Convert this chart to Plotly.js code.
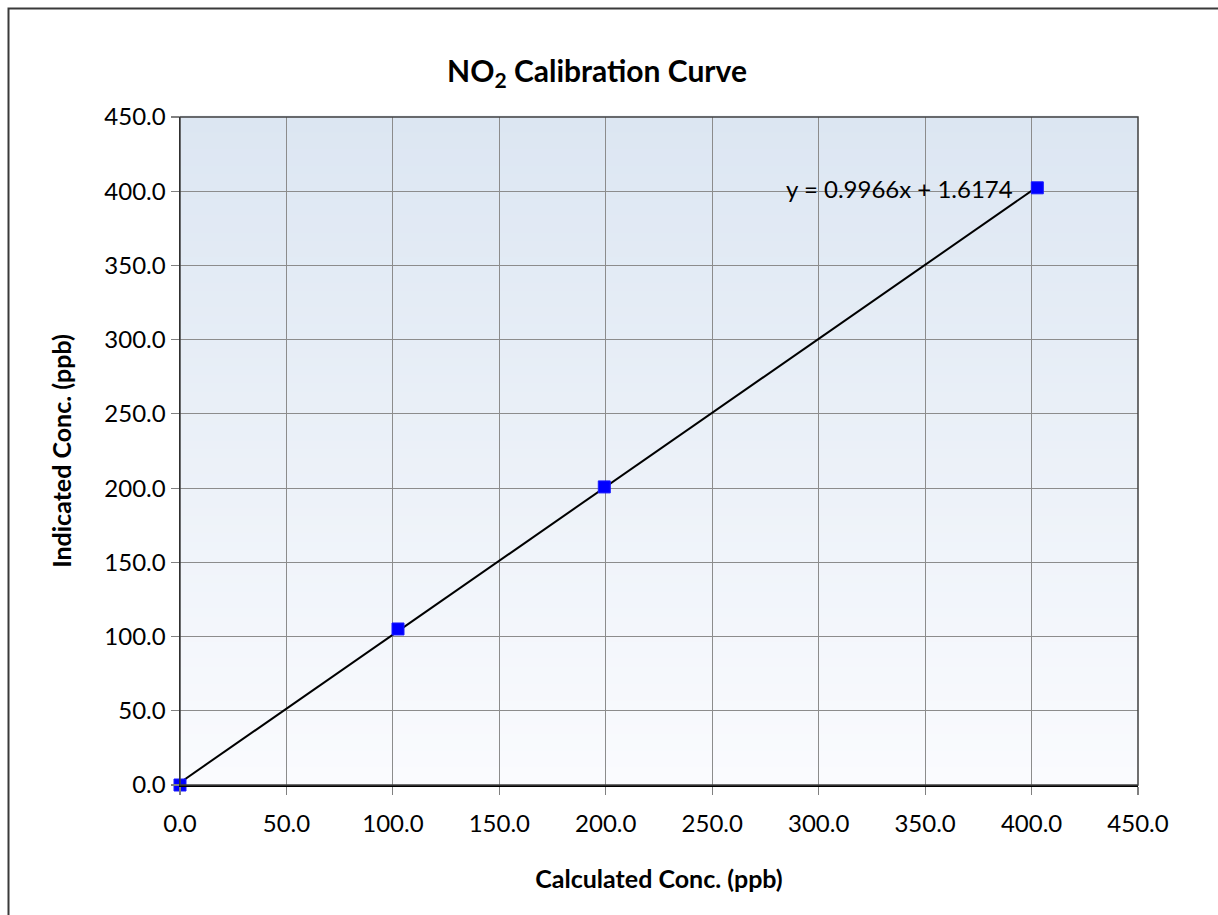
<!DOCTYPE html>
<html>
<head>
<meta charset="utf-8">
<script src="https://cdn.plot.ly/plotly-3.0.1.min.js"></script>
<style>
html,body{margin:0;padding:0;background:#fff;}
#chart{width:1218px;height:915px;}
</style>
</head>
<body>
<div id="chart"></div>
<script>
// Data
const calculatedConc = [0.0, 102.4, 199.3, 402.7];
const indicatedConc = [0.0, 105.1, 200.8, 402.3];
const slope = 0.9966;
const intercept = 1.6174;
const tickVals = [0, 50, 100, 150, 200, 250, 300, 350, 400, 450];
const tickLabels = ["0.0","50.0","100.0","150.0","200.0","250.0","300.0","350.0","400.0","450.0"];
const equationLabel = "y = 0.9966x + 1.6174";

const FONT = "Lato, 'Open Sans', sans-serif";

const xMax = Math.max(...calculatedConc);
const trendX = [0, xMax];
const trendY = trendX.map(v => slope * v + intercept);

// gradient background stripes
const shapes = [];
const N = 80;
const gradTop = [220, 230, 242], gradBot = [250, 251, 254];
for (let i = 0; i < N; i++) {
  const t = i / (N - 1);
  const c = gradTop.map((v, k) => Math.round(v + (gradBot[k] - v) * t));
  shapes.push({
    type: 'rect', xref: 'x domain', yref: 'y domain', layer: 'below',
    x0: 0, x1: 1, y0: 1 - (i + 1) / N, y1: 1 - i / N + 0.002,
    fillcolor: `rgb(${c[0]},${c[1]},${c[2]})`, line: {width: 0}
  });
}
// plot-area border (top/right)
shapes.push({type:'rect', xref:'x domain', yref:'y domain', x0:0, x1:1, y0:0, y1:1,
  line:{color:'#404040', width:1.5}, fillcolor:'rgba(0,0,0,0)', layer:'above'});
// outer chart border
shapes.push({type:'rect', xref:'paper', yref:'paper', x0:(8.5-180)/958, x1:2, y0:-2, y1:(785-8.5)/668,
  line:{color:'#3a3a3a', width:2}, fillcolor:'rgba(0,0,0,0)', layer:'above'});

const traces = [
  {x: trendX, y: trendY, mode: 'lines', line: {color: '#000000', width: 2}, hoverinfo: 'skip', showlegend: false, cliponaxis: false},
  {x: calculatedConc, y: indicatedConc, mode: 'markers', showlegend: false, cliponaxis: false,
   marker: {symbol: 'square', size: 12, color: '#0000ff', line: {color: '#1a1aff', width: 1}}}
];

const axisCommon = {
  range: [0, 450], tickvals: tickVals, ticktext: tickLabels,
  showgrid: true, gridcolor: '#8c8c8c', gridwidth: 1.2,
  zeroline: false, showline: true, linecolor: '#000000', linewidth: 1.5,
  ticks: 'outside', ticklen: 8, tickcolor: '#808080', tickwidth: 1.2,
  tickfont: {family: FONT, size: 24, color: '#000'}, fixedrange: true
};

const layout = {
  width: 1218, height: 915,
  margin: {l: 180, r: 80, t: 117, b: 130, pad: 0},
  paper_bgcolor: '#ffffff', plot_bgcolor: '#ffffff',
  title: {text: '<b>NO<sub>2</sub> Calibration Curve</b>', x: 597/1218, xref: 'container', xanchor: 'center',
          y: 1 - 71/915, yref: 'container', yanchor: 'middle',
          font: {family: FONT, size: 30, color: '#000'}},
  xaxis: Object.assign({}, axisCommon, {
    ticklabelstandoff: 9,
    title: {text: '<b>Calculated Conc. (ppb)</b>', font: {family: FONT, size: 25, color: '#000'}, standoff: 34}
  }),
  yaxis: Object.assign({}, axisCommon, {
    title: {text: '<b>Indicated Conc. (ppb)</b>', font: {family: FONT, size: 25, color: '#000'}, standoff: 25}
  }),
  shapes: shapes,
  annotations: [{
    text: equationLabel, xref: 'paper', yref: 'paper',
    x: (1015-180)/958, y: (785-188)/668, xanchor: 'right', yanchor: 'middle',
    showarrow: false, font: {family: FONT, size: 24, color: '#000'}
  }],
  showlegend: false
};

Plotly.newPlot('chart', traces, layout, {displayModeBar: false, staticPlot: true});
</script>
</body>
</html>
